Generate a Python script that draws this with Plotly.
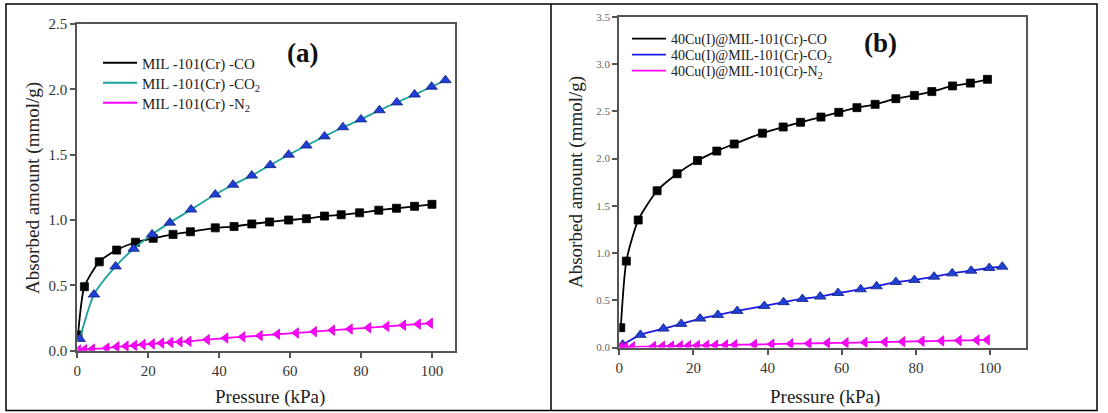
import plotly.graph_objects as go

# ---------------- data: panel (a) MIL-101(Cr) ----------------
a_co_x = [0.2, 2.0, 6.2, 11.1, 16.4, 21.4, 27.0, 31.9, 38.9, 44.2, 49.2, 54.2, 59.6, 64.6, 69.7, 74.4, 79.6, 85.0, 90.0, 95.1, 100.0]
a_co_y = [0.12, 0.49, 0.68, 0.77, 0.83, 0.86, 0.89, 0.91, 0.94, 0.95, 0.97, 0.985, 1.0, 1.01, 1.03, 1.04, 1.055, 1.075, 1.09, 1.105, 1.12]

a_co2_x = [0.7, 4.7, 10.8, 15.9, 21.1, 26.1, 32.1, 38.9, 43.9, 49.2, 54.4, 59.6, 64.6, 69.7, 74.9, 80.0, 85.2, 90.1, 95.1, 99.9, 103.8]
a_co2_y = [0.09, 0.43, 0.645, 0.78, 0.89, 0.98, 1.08, 1.195, 1.27, 1.34, 1.42, 1.50, 1.57, 1.64, 1.71, 1.77, 1.84, 1.90, 1.96, 2.02, 2.07]

a_n2_x = [0.3, 2.0, 4.2, 8.3, 11.1, 13.7, 16.1, 18.5, 21.1, 23.7, 26.3, 28.9, 31.4, 36.6, 41.8, 46.6, 51.5, 56.4, 61.7, 66.8, 71.9, 76.9, 82.1, 87.2, 91.9, 96.1, 99.5]
a_n2_y = [0.005, 0.008, 0.012, 0.02, 0.03, 0.035, 0.04, 0.048, 0.052, 0.058, 0.063, 0.068, 0.072, 0.085, 0.097, 0.106, 0.115, 0.126, 0.136, 0.146, 0.157, 0.166, 0.176, 0.186, 0.195, 0.203, 0.21]

# ---------------- data: panel (b) 40Cu(I)@MIL-101(Cr) ----------------
b_co_x = [0.4, 1.9, 5.1, 10.2, 15.6, 21.1, 26.3, 31.0, 38.6, 44.2, 48.9, 54.4, 59.2, 64.1, 69.0, 74.6, 79.6, 84.3, 89.9, 94.7, 99.3]
b_co_y = [0.21, 0.915, 1.35, 1.66, 1.84, 1.98, 2.08, 2.155, 2.27, 2.335, 2.385, 2.44, 2.49, 2.54, 2.575, 2.635, 2.67, 2.71, 2.77, 2.80, 2.84]

b_co2_x = [0.9, 5.7, 11.9, 16.7, 21.8, 26.6, 31.8, 39.1, 44.3, 49.4, 54.2, 59.0, 65.1, 69.4, 74.6, 79.6, 84.9, 89.8, 94.9, 99.8, 103.3]
b_co2_y = [0.03, 0.134, 0.20, 0.25, 0.306, 0.345, 0.387, 0.44, 0.48, 0.514, 0.539, 0.577, 0.616, 0.648, 0.694, 0.715, 0.75, 0.785, 0.813, 0.842, 0.856]

b_n2_x = [0.3, 1.6, 3.5, 9.2, 11.6, 14.0, 16.4, 18.6, 21.0, 23.5, 25.9, 28.6, 31.1, 36.4, 41.1, 46.2, 51.1, 56.1, 61.1, 66.2, 71.6, 76.4, 81.6, 86.9, 91.6, 96.4, 99.2]
b_n2_y = [0.003, 0.005, 0.007, 0.011, 0.013, 0.015, 0.017, 0.019, 0.021, 0.023, 0.025, 0.027, 0.029, 0.032, 0.036, 0.040, 0.043, 0.047, 0.050, 0.054, 0.058, 0.062, 0.066, 0.070, 0.074, 0.078, 0.081]

a_names = ["MIL -101(Cr) -CO", "MIL -101(Cr) -CO<sub>2</sub>", "MIL -101(Cr) -N<sub>2</sub>"]
b_names = ["40Cu(I)@MIL-101(Cr)-CO", "40Cu(I)@MIL-101(Cr)-CO<sub>2</sub>", "40Cu(I)@MIL-101(Cr)-N<sub>2</sub>"]

x_ticks = [0, 20, 40, 60, 80, 100]
a_y_ticks = [0.0, 0.5, 1.0, 1.5, 2.0, 2.5]
b_y_ticks = [0.0, 0.5, 1.0, 1.5, 2.0, 2.5, 3.0, 3.5]

W, H = 1108, 413
FONT = "Liberation Serif, DejaVu Serif, Times New Roman, serif"

def px(x):
    return x / W

def py(y):
    return (H - y) / H

fig = go.Figure()

def add_series(xs, ys, name, line_color, marker_color, symbol, size, xa, ya, legend, outline):
    fig.add_trace(go.Scatter(
        x=xs, y=ys, mode="lines", name=name, line=dict(color=line_color, width=1.8, shape="spline", smoothing=0.6),
        xaxis=xa, yaxis=ya, legend=legend, showlegend=True, hoverinfo="skip"))
    fig.add_trace(go.Scatter(
        x=xs, y=ys, mode="markers", name=name, showlegend=False,
        marker=dict(symbol=symbol, size=size, color=marker_color, line=dict(color=outline, width=0.8)),
        xaxis=xa, yaxis=ya))

add_series(a_co_x, a_co_y, a_names[0], "#000000", "#000000", "square", 8, "x", "y", "legend", "#000000")
add_series(a_co2_x, a_co2_y, a_names[1], "#1aa39a", "#1f3fd6", "triangle-up", 10, "x", "y", "legend3", "#10207a")
add_series(a_n2_x, a_n2_y, a_names[2], "#ff00ff", "#ff00ff", "triangle-left", 9, "x", "y", "legend4", "#d000d0")

add_series(b_co_x, b_co_y, b_names[0], "#000000", "#000000", "square", 8, "x2", "y2", "legend2", "#000000")
add_series(b_co2_x, b_co2_y, b_names[1], "#1a1ae0", "#1f3fd6", "triangle-up", 10, "x2", "y2", "legend5", "#10207a")
add_series(b_n2_x, b_n2_y, b_names[2], "#ff00ff", "#ff00ff", "triangle-left", 9, "x2", "y2", "legend6", "#d000d0")

axis_common = dict(showline=True, linecolor="#555555", linewidth=2, mirror=True, ticks="outside",
                   ticklen=5, tickwidth=1.5, tickcolor="#555555", showgrid=False, zeroline=False)

def legend_row(x, y, size):
    return dict(x=px(x), y=py(y), xanchor="left", yanchor="middle", bgcolor="rgba(0,0,0,0)",
                font=dict(family=FONT, size=size, color="#222222"), tracegroupgap=0, itemwidth=34)

fig.update_layout(
    autosize=True, margin=dict(l=0, r=0, t=0, b=0, autoexpand=False),
    paper_bgcolor="white", plot_bgcolor="white",
    font=dict(family=FONT, color="#222222"),
    xaxis=dict(domain=[px(77.3), px(455)], range=[0, 106.5], tickvals=x_ticks,
               tickfont=dict(family=FONT, size=15, color="#333333"), **axis_common),
    yaxis=dict(domain=[py(350.7), py(24)], range=[0, 2.5], tickvals=a_y_ticks, ticktext=[f"{v:.1f}" for v in a_y_ticks],
               tickfont=dict(family=FONT, size=15, color="#333333"), anchor="x", **axis_common),
    xaxis2=dict(domain=[px(619.3), px(1026)], range=[0, 109.7], tickvals=x_ticks, anchor="y2",
                tickfont=dict(family=FONT, size=15, color="#333333"), **axis_common),
    yaxis2=dict(domain=[py(347.5), py(17)], range=[0, 3.5], tickvals=b_y_ticks, ticktext=[f"{v:.1f}" for v in b_y_ticks],
                tickfont=dict(family=FONT, size=11, color="#666666"), anchor="x2", **axis_common),
    legend=legend_row(98, 63, 15),
    legend3=legend_row(98, 83, 15),
    legend4=legend_row(98, 103, 15),
    legend2=legend_row(627, 39, 14),
    legend5=legend_row(627, 55, 14),
    legend6=legend_row(627, 71, 14),
    showlegend=True,
)

annotations = [
    dict(text="<b>(a)</b>", x=px(302), y=py(53), font=dict(size=27, color="#111111")),
    dict(text="<b>(b)</b>", x=px(880), y=py(43), font=dict(size=27, color="#111111")),
    dict(text="Pressure (kPa)", x=px(270), y=py(397), font=dict(size=19, color="#222222")),
    dict(text="Pressure (kPa)", x=px(825), y=py(397), font=dict(size=19, color="#222222")),
    dict(text="Absorbed amount (mmol/g)", x=px(33), y=py(188), textangle=-90, font=dict(size=19, color="#222222")),
    dict(text="Absorbed amount (mmol/g)", x=px(576), y=py(182), textangle=-90, font=dict(size=19, color="#222222")),
]
for a in annotations:
    a.update(xref="paper", yref="paper", showarrow=False, xanchor="center", yanchor="middle")
    a["font"]["family"] = FONT
fig.update_layout(annotations=annotations)

# outer table frame and separator
fig.add_shape(type="rect", xref="paper", yref="paper", x0=px(6), x1=px(1097), y0=py(410.5), y1=py(4),
              line=dict(color="#000000", width=1.5))
fig.add_shape(type="line", xref="paper", yref="paper", x0=px(551), x1=px(551), y0=py(410.5), y1=py(4),
              line=dict(color="#000000", width=1.5))

# the graph div is pinned to the page's top-left corner so the page is exactly 1108x413
fig.write_html("out.html", config={"displayModeBar": False, "responsive": False},
               default_width="1108px",
               default_height="413px;position:absolute;top:0;left:0;margin:0")
